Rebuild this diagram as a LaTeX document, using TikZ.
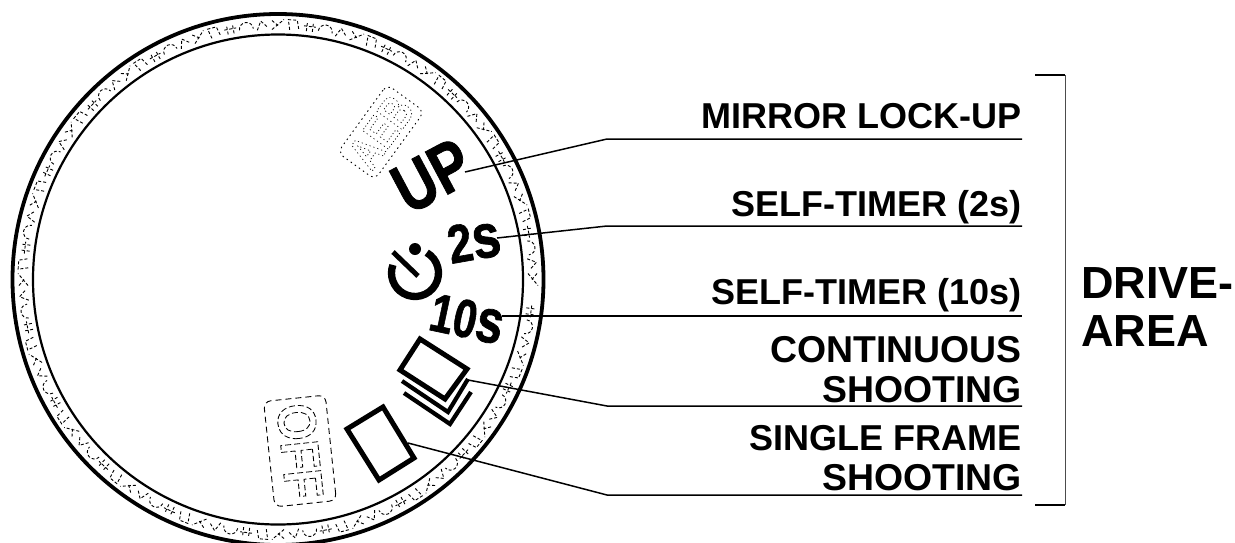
\documentclass[tikz,border=0pt]{standalone}
\usepackage{fontspec}
\setmainfont{Liberation Sans}[Ligatures=TeX,Kerning=Off]
\newfontfamily\heavy{Liberation Sans Bold}[FakeBold=1.2]
\newcommand{\outlined}[2]{\special{pdf:code 1 Tr #1 w [#2] 0 d}}
\newcommand{\outlinedend}{\special{pdf:code 0 Tr [] 0 d}}
\newcommand{\bigs}[1]{{\fontsize{#1}{#1}\selectfont\heavy s}}
\tikzset{
  lab/.style={anchor=base east,inner sep=0pt,font=\fontsize{36}{40}\selectfont\bfseries},
  labw/.style={anchor=base east,inner sep=0pt,font=\fontsize{37.4}{40}\selectfont\bfseries},
  big/.style={anchor=base west,inner sep=0pt,font=\fontsize{45}{46}\selectfont\bfseries},
  dial/.style={inner sep=0pt,font=\fontsize{#1}{#1}\selectfont\heavy},
  faint/.style={inner sep=0pt,font=\fontsize{#1}{#1}\selectfont\bfseries},
  lead/.style={line width=1.5pt,black},
  ring/.style={line width=.9pt,dash pattern=on 3pt off 2pt,black},
  sym/.style={line width=5pt,miter limit=4,black},
  stk/.style={line width=4.2pt,miter limit=4,black},
  brack/.style={line width=1pt,black!70},
  tick/.style={line width=1.8pt,black}
}
\begin{document}
\begin{tikzpicture}[x=1pt,y=-1pt]
\useasboundingbox (0,0) rectangle (1235,542);
\clip (0,0) rectangle (1235,542);
\fill[white] (0,0) rectangle (1235,542);
% dial ring
\coordinate (C) at (278,279.5);
\draw[line width=3.8pt] (C) circle[radius=265.5];
\draw[line width=2.2pt] (C) circle[radius=245];
% ring texture
\foreach \a [count=\i] in {0,3.6,...,356.4}{
  \begin{scope}[shift={(C)},rotate=\a]
    \pgfmathtruncatemacro{\m}{mod(\i*7,5)}
    \ifnum\m=0
      \draw[ring] (250,-4) -- (260,-6) -- (260,3) -- (251,5);
    \fi
    \ifnum\m=1
      \draw[ring] (252,-7) arc[start angle=-90,end angle=90,radius=7];
    \fi
    \ifnum\m=2
      \draw[ring] (250,-6) -- (260,6) (259,-6) -- (254,0);
    \fi
    \ifnum\m=3
      \draw[ring] (250,-3) -- (260,-3) (250,3) -- (260,3) (255,-6) -- (255,6);
    \fi
    \ifnum\m=4
      \draw[ring] (250,-5) -- (259,-1) -- (252,6);
    \fi
  \end{scope}
}
% dashed legends on the dial
\node[rectangle,draw,rounded corners=7pt,line width=.9pt,dash pattern=on 1.5pt off 3.5pt,
      minimum width=84,minimum height=46,rotate=54] (aebframe) at (381,132) {};
\node[faint=46,rotate=54,xscale=.78] (aeb) at (aebframe.center)
   {\outlined{.8}{1.2 3}AEB\outlinedend};
\node[rectangle,draw,rounded corners=7pt,line width=.9pt,dash pattern=on 6pt off 4pt,
      minimum width=106,minimum height=62,rotate=-84] (offframe) at (300,451) {};
\node[faint=54,rotate=-84,xscale=.88] (off) at (offframe.center)
   {\outlined{.9}{6 3}OFF\outlinedend};
% solid legends
\node[dial=70,rotate=28,xscale=.8] (up) at (432,176) {UP};
\node[dial=54,rotate=10,xscale=.82] (twos) at (474,241) {2\bigs{62}};
\node[dial=54,rotate=-12,xscale=.78] (tens) at (467,319) {10\bigs{62}};
% timer
\coordinate (T) at (415,273);
\draw[line width=7.3pt] ([shift={(T)}]-60:23.5) arc[start angle=-60,end angle=200,radius=23.5];
\fill (415,249) circle[radius=6];
\draw[line width=5pt] (393,252) -- (418,276);
% frames
\draw[sym] (420,339) -- (467,369) -- (445,399) -- (400,370) -- cycle;
\draw[stk] (402,381) -- (448,412) -- (468,379);
\draw[stk] (404,393) -- (450,424) -- (471,392);
\draw[sym] (383,407) -- (414,458) -- (379,480) -- (347,429) -- cycle;
% labels
\node[lab] (mlu) at (1022,128) {MIRROR LOCK-UP};
\node[lab] (st2) at (1022,216) {SELF-TIMER (2s)};
\node[lab] (st10) at (1022,304) {SELF-TIMER (10s)};
\node[labw] (cs1) at (1022,362) {CONTINUOUS};
\node[labw] (cs2) at (1022,402) {SHOOTING};
\node[lab] (sf1) at (1022,450) {SINGLE FRAME};
\node[labw] (sf2) at (1022,490) {SHOOTING};
\node[big] (dr) at (1081,298) {DRIVE-};
\node[big] (ar) at (1081,346) {AREA};
% leaders
\coordinate (l1a) at (465,172); \coordinate (l1b) at (607,139); \coordinate (l1c) at (1022,139);
\coordinate (l2a) at (497,238); \coordinate (l2b) at (607,226); \coordinate (l2c) at (1022,226);
\coordinate (l3a) at (502,316); \coordinate (l3c) at (1022,316);
\coordinate (l4a) at (468,380); \coordinate (l4b) at (607,406); \coordinate (l4c) at (1022,406);
\coordinate (l5a) at (408,443); \coordinate (l5b) at (607,495); \coordinate (l5c) at (1022,495);
\draw[lead] (l1a) -- (l1b) -- (l1c);
\draw[lead] (l2a) -- (l2b) -- (l2c);
\draw[lead] (l3a) -- (l3c);
\draw[lead] (l4a) -- (l4b) -- (l4c);
\draw[lead] (l5a) -- (l5b) -- (l5c);
% bracket
\coordinate (b1) at (1035,75); \coordinate (b2) at (1065,75);
\coordinate (b3) at (1065,505); \coordinate (b4) at (1035,505);
\draw[brack] (b2) -- (b3);
\draw[tick] (b1) -- (b2);
\draw[tick] (b4) -- (b3);
\end{tikzpicture}
\end{document}
